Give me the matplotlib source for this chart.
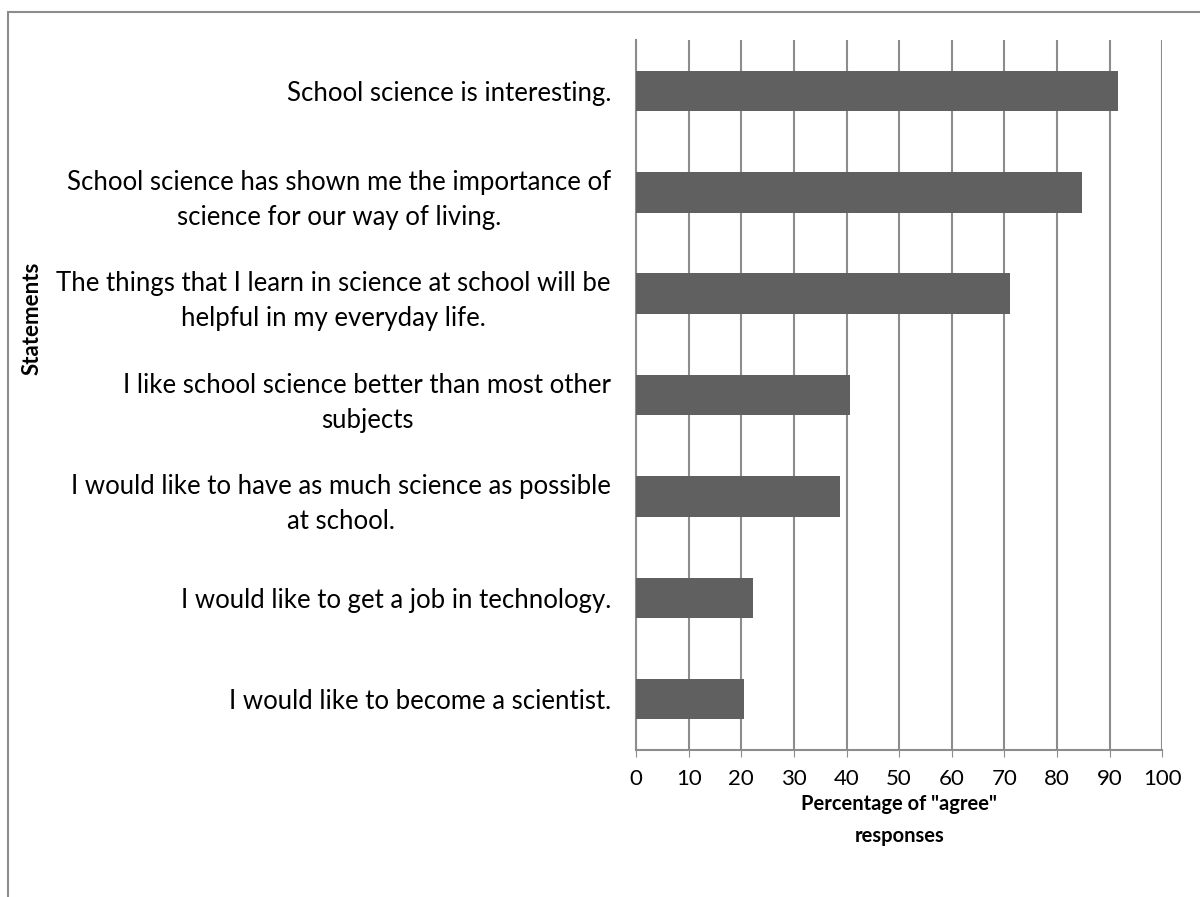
import matplotlib.pyplot as plt
from matplotlib.patches import Rectangle

plt.rcParams['font.family'] = ['Lato', 'DejaVu Sans']

statements = [
    "School science is interesting.",
    "School science has shown me the importance of\nscience for our way of living.",
    "The things that I learn in science at school will be\nhelpful in my everyday life.",
    "I like school science better than most other\nsubjects",
    "I would like to have as much science as possible\nat school.",
    "I would like to get a job in technology.",
    "I would like to become a scientist.",
]
agree_pct = [91.5, 84.8, 71.1, 40.6, 38.7, 22.2, 20.5]
xticks = list(range(0, 101, 10))

fig = plt.figure(figsize=(12, 8.97), dpi=100)
ax = fig.add_axes([0.53, 0.164, 0.4386, 0.791])

ypos = list(range(len(statements)))
ax.barh(ypos, agree_pct, height=0.4, color='#606060', zorder=3)
ax.set_ylim(len(statements) - 0.5, -0.5)
ax.set_xlim(0, 100)
ax.set_xticks(xticks)
ax.set_xticklabels([str(t) for t in xticks], fontsize=16)
ax.set_yticks(ypos)
ax.set_yticklabels(statements, fontsize=18.5, multialignment='center', linespacing=1.5)
ax.tick_params(axis='y', length=0, pad=18)
ax.tick_params(axis='x', direction='out', length=5, color='#8c8c8c', pad=9)
ax.grid(axis='x', color='#8c8c8c', linewidth=1.5, zorder=0)
for s in ['top', 'right']:
    ax.spines[s].set_visible(False)
for s in ['left', 'bottom']:
    ax.spines[s].set_color('#8c8c8c')
    ax.spines[s].set_linewidth(1.5)

ax.set_xlabel('Percentage of "agree"\nresponses', fontsize=14.5, fontweight='bold',
              labelpad=3, linespacing=1.8)
fig.text(0.027, 0.645, 'Statements', rotation=90, fontsize=16, fontweight='bold',
         ha='center', va='center')

# chart frame
fig.patches.append(Rectangle((0.007, -0.1), 1.2, 1.087, transform=fig.transFigure,
                             fill=False, edgecolor='#8c8c8c', linewidth=1.5))

fig.savefig('out.png', dpi=100)
